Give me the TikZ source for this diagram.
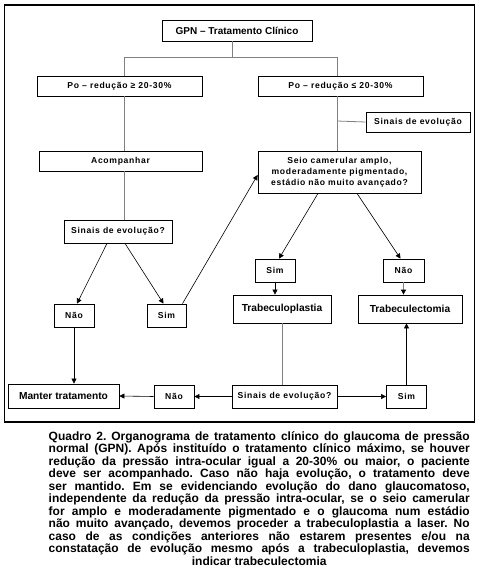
\documentclass[tikz,border=0pt]{standalone}
\usepackage{fontspec}
\setmainfont{Liberation Sans}
\newfontfamily\spc[LetterSpace=8]{Liberation Sans}
\usetikzlibrary{arrows.meta}
\newcommand{\capline}[1]{\makebox[421pt][s]{#1}}
\tikzset{
  box/.style={draw=black, line width=0.8pt, inner sep=0pt, align=center, font=\bfseries\fontsize{8.6}{10}\selectfont\spc},
  bigbox/.style={draw=black, line width=0.8pt, inner sep=0pt, align=center, font=\bfseries\fontsize{10.2}{12}\selectfont},
  tree/.style={draw=gray, line width=0.8pt},
  arr/.style={draw=black, line width=0.6pt, -{Triangle[length=5pt,width=5pt]}},
  garr/.style={draw=gray, line width=0.8pt, -{Triangle[length=5pt,width=5pt,color=black,fill=black]}},
}
\begin{document}
\frenchspacing
\begin{tikzpicture}[x=1pt,y=-1pt]
\useasboundingbox (0,0) rectangle (479,578);
\fill[white] (0,0) rectangle (479,578);
\draw[line width=1.3pt] (4.5,5) rectangle (474.5,422);
% nodes
\node[bigbox, minimum width=150pt, minimum height=21pt, font=\bfseries\fontsize{10}{12}\selectfont] (gpn) at (237,30.5) {GPN – Tratamento Clínico};
\node[box, minimum width=165pt, minimum height=20pt] (pol) at (119.5,86) {Po – redução ≥ 20-30\%};
\node[box, minimum width=165pt, minimum height=20pt] (por) at (340.5,86) {Po – redução ≤ 20-30\%};
\node[box, minimum width=104pt, minimum height=20pt] (sev) at (418,122) {Sinais de evolução};
\node[box, minimum width=163pt, minimum height=20pt] (acomp) at (120.5,161) {Acompanhar};
\node[box, minimum width=163pt, minimum height=42pt, font=\bfseries\fontsize{8.6}{11}\selectfont\spc] (seio) at (339.5,172) {Seio camerular amplo,\\moderadamente pigmentado,\\estádio não muito avançado?};
\node[box, minimum width=108pt, minimum height=23pt] (sl) at (118,231.5) {Sinais de evolução?};
\node[box, minimum width=40pt, minimum height=23pt] (naol) at (74,315.5) {Não};
\node[box, minimum width=39pt, minimum height=23pt] (siml) at (166.5,315.5) {Sim};
\node[box, minimum width=40pt, minimum height=23pt] (simr) at (275,270.5) {Sim};
\node[box, minimum width=41pt, minimum height=23pt] (naor) at (403.5,270.5) {Não};
\node[bigbox, minimum width=98pt, minimum height=28pt] (tplast) at (282,309) {Trabeculoplastia};
\node[bigbox, minimum width=104pt, minimum height=28pt] (tect) at (410,309) {Trabeculectomia};
\node[box, minimum width=105pt, minimum height=23pt] (sb) at (284.5,396.5) {Sinais de evolução?};
\node[box, minimum width=40pt, minimum height=23pt] (simb) at (406.5,396.5) {Sim};
\node[box, minimum width=40pt, minimum height=23pt] (naob) at (174,396.5) {Não};
\node[bigbox, minimum width=111pt, minimum height=24pt] (manter) at (63.5,396) {Manter tratamento};
% tree lines
\coordinate (jx) at (232,57);
\coordinate (ja) at (124,57);
\coordinate (jb) at (337,57);
\coordinate (js) at (337,121);
\draw[tree] (gpn.south -| jx) -- (jx);
\draw[tree] (ja) -- (jb);
\draw[tree] (ja) -- (pol.north -| ja);
\draw[tree] (jb) -- (por.north -| jb);
\draw[tree] (pol.south -| ja) -- (acomp.north -| ja);
\draw[tree] (acomp.south -| ja) -- (sl.north -| ja);
\draw[tree] (por.south -| jb) -- (seio.north -| jb);
\draw[tree] (js) -- (sev.west);
\draw[tree] (tplast.south) -- (tplast.south |- sb.north);
% arrows
\draw[arr] ([xshift=-11pt]sl.south) -- ([xshift=3pt]naol.north);
\draw[arr] ([xshift=7pt]sl.south) -- ([xshift=-3pt]siml.north);
\draw[arr] ([xshift=16pt]siml.north) -- ([yshift=-3pt]seio.west);
\draw[arr] ([xshift=-21.5pt]seio.south) -- ([xshift=4pt]simr.north);
\draw[arr] ([xshift=17.5pt]seio.south) -- ([xshift=-3pt]naor.north);
\draw[arr] (simr.south) -- (simr.south |- tplast.north);
\draw[garr] (naor.south) -- (naor.south |- tect.north);
\draw[arr] (naol.south) -- (naol.south |- manter.north);
\draw[arr] (sb.west) -- (naob.east);
\draw[arr] (naob.west) -- (manter.east);
\draw[arr] (sb.east) -- (simb.west);
\draw[arr] (simb.north) -- (simb.north |- tect.south);
% caption
\node[inner sep=0pt, anchor=north west, align=left, font=\bfseries\fontsize{12}{12.5}\selectfont] (cap) at (48.5,431) {%
\capline{Quadro 2. Organograma de tratamento clínico do glaucoma de pressão}\\
\capline{normal (GPN). Após instituído o tratamento clínico máximo, se houver}\\
\capline{redução da pressão intra-ocular igual a 20-30\% ou maior, o paciente}\\
\capline{deve ser acompanhado. Caso não haja evolução, o tratamento deve}\\
\capline{ser mantido. Em se evidenciando evolução do dano glaucomatoso,}\\
\capline{independente da redução da pressão intra-ocular, se o seio camerular}\\
\capline{for amplo e moderadamente pigmentado e o glaucoma num estádio}\\
\capline{não muito avançado, devemos proceder a trabeculoplastia a laser. No}\\
\capline{caso de as condições anteriores não estarem presentes e/ou na}\\
\capline{constatação de evolução mesmo após a trabeculoplastia, devemos}\\
\makebox[421pt][c]{indicar trabeculectomia}};
\end{tikzpicture}
\end{document}
